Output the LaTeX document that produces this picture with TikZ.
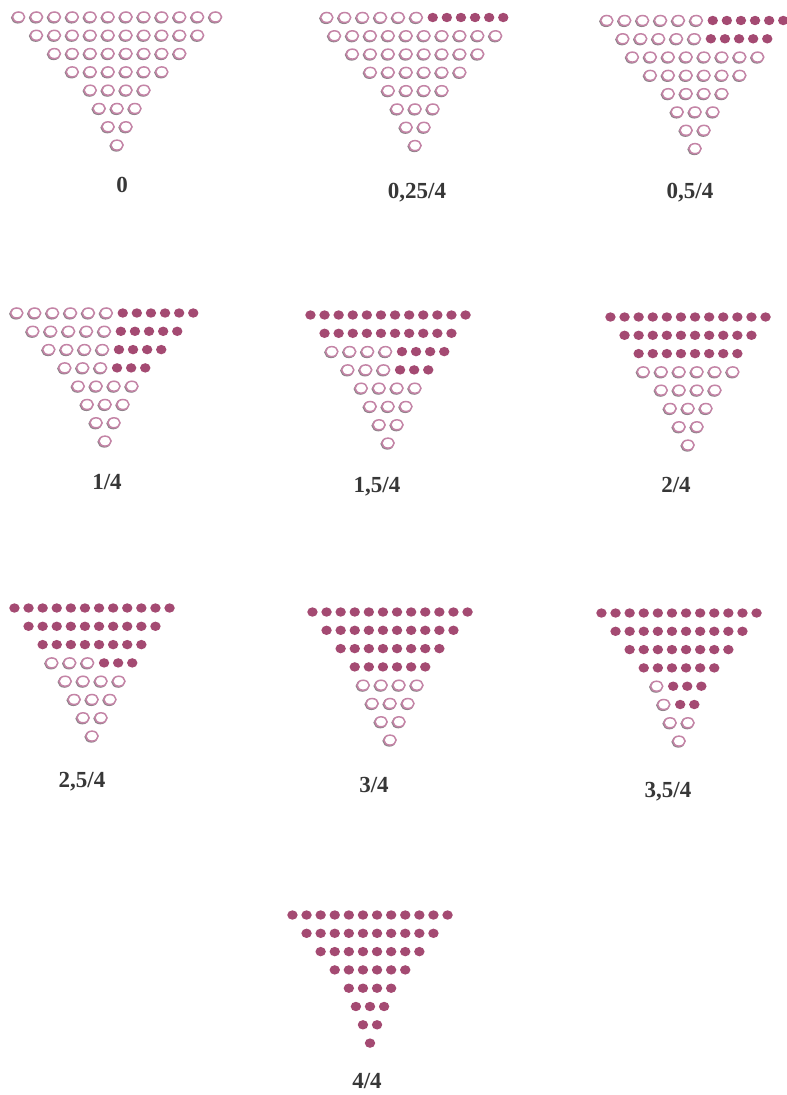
\documentclass[tikz,border=0pt]{standalone}
\usepackage{fontspec}
\setmainfont{Liberation Serif}
\definecolor{plum}{RGB}{164,74,114}
\definecolor{ringc}{RGB}{196,132,166}
\definecolor{shadec}{RGB}{140,130,136}
\definecolor{labc}{RGB}{55,55,55}
\def\spO{17.9}
\def\spF{14.1}
\def\spT{16.5}
\def\spY{18.3}
\newcommand\ringdot[2]{%
  \draw[shadec, line width=1.5pt] (#1-0.7,#2+0.8) ellipse [x radius=6.1pt, y radius=5.0pt];
  \draw[ringc, fill=white, line width=1.5pt] (#1,#2) ellipse [x radius=6.1pt, y radius=5.0pt];
}
\newcommand\filldot[2]{%
  \fill[plum] (#1,#2) ellipse [x radius=5.2pt, y radius=4.7pt];
}
\newcommand\trirow[4]{% cx, y, open count, filled count
  \pgfmathsetmacro\rw{(#3>0)*(#3-1)*\spO + (#4>0)*(#4-1)*\spF + (#3>0)*(#4>0)*\spT}
  \pgfmathsetmacro\rx{#1-\rw/2}
  \ifnum#3>0
    \foreach \i in {1,...,#3}{\pgfmathsetmacro\px{\rx+(\i-1)*\spO}\ringdot{\px}{#2}}
  \fi
  \ifnum#4>0
    \pgfmathsetmacro\fx{\rx+(#3>0)*((#3-1)*\spO+\spT)}
    \foreach \j in {1,...,#4}{\pgfmathsetmacro\px{\fx+(\j-1)*\spF}\filldot{\px}{#2}}
  \fi
}
\newcommand\tri[3]{% cx, top y, rows
  \foreach \a/\b [count=\k] in {#3}{%
    \pgfmathsetmacro\ry{#2+(\k-1)*\spY}
    \trirow{#1}{\ry}{\a}{\b}
  }
}
\tikzset{lab/.style={text=labc, font=\fontsize{23}{26}\selectfont\bfseries, anchor=base, inner sep=0pt}}
\begin{document}
\begin{tikzpicture}[x=1pt,y=-1pt]
\useasboundingbox[fill=white] (0,0) rectangle (787,1095);
% row 1
\tri{117}{17}{12/0,10/0,8/0,6/0,4/0,3/0,2/0,1/0}
\tri{415}{17.5}{6/6,10/0,8/0,6/0,4/0,3/0,2/0,1/0}
\tri{695}{20.5}{6/6,5/5,8/0,6/0,4/0,3/0,2/0,1/0}
% row 2
\tri{105}{313}{6/6,5/5,4/4,3/3,4/0,3/0,2/0,1/0}
\tri{388}{315}{0/12,0/10,4/4,3/3,4/0,3/0,2/0,1/0}
\tri{688}{317}{0/12,0/10,0/8,6/0,4/0,3/0,2/0,1/0}
% row 3
\tri{92}{608}{0/12,0/10,0/8,3/3,4/0,3/0,2/0,1/0}
\tri{390}{612}{0/12,0/10,0/8,0/6,4/0,3/0,2/0,1/0}
\tri{679}{613}{0/12,0/10,0/8,0/6,1/3,1/2,2/0,1/0}
% row 4
\tri{370}{915}{0/12,0/10,0/8,0/6,0/4,0/3,0/2,0/1}
% labels
\node[lab] (l0) at (122,192) {0};
\node[lab] (l1) at (417,198) {0,25/4};
\node[lab] (l2) at (690,198) {0,5/4};
\node[lab] (l3) at (107,489) {1/4};
\node[lab] (l4) at (377,492) {1,5/4};
\node[lab] (l5) at (676,492) {2/4};
\node[lab] (l6) at (82,787) {2,5/4};
\node[lab] (l7) at (374,792) {3/4};
\node[lab] (l8) at (668,797) {3,5/4};
\node[lab] (l9) at (367,1088) {4/4};
\end{tikzpicture}
\end{document}
